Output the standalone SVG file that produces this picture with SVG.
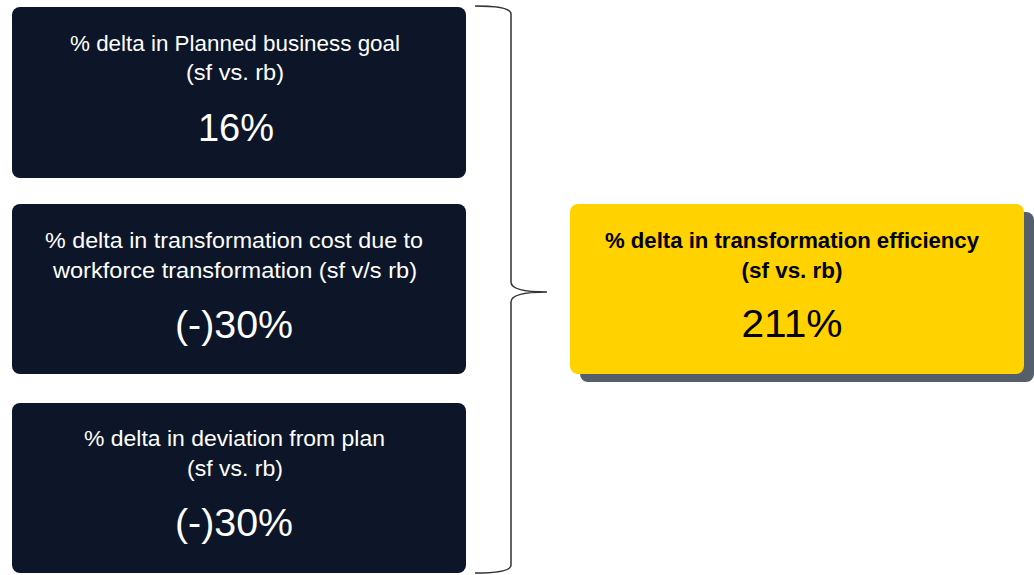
<svg xmlns="http://www.w3.org/2000/svg" width="1034" height="575" viewBox="0 0 1034 575">
<style>
.dark{fill:#0c1628}
.t{font-family:"Liberation Sans",Arial,sans-serif;text-anchor:middle}
.w{fill:#ffffff}
.lbl{font-size:22px}
.big{font-size:38px}
.k{fill:#000000}
</style>
<rect width="1034" height="575" fill="#ffffff"/>
<g id="node-planned-goal">
<rect class="dark" x="12" y="7" width="454" height="171" rx="8"/>
<text class="t w lbl" x="235" y="51" textLength="330" lengthAdjust="spacingAndGlyphs">% delta in Planned business goal</text>
<text class="t w lbl" x="235" y="80" textLength="98" lengthAdjust="spacingAndGlyphs">(sf vs. rb)</text>
<text class="t w big" x="236" y="141">16%</text>
</g>
<g id="node-transformation-cost">
<rect class="dark" x="12" y="204" width="454" height="170" rx="8"/>
<text class="t w lbl" x="234" y="248" textLength="378" lengthAdjust="spacingAndGlyphs">% delta in transformation cost due to</text>
<text class="t w lbl" x="235" y="278" textLength="364" lengthAdjust="spacingAndGlyphs">workforce transformation (sf v/s rb)</text>
<text class="t w big" x="234" y="338" textLength="118" lengthAdjust="spacingAndGlyphs">(-)30%</text>
</g>
<g id="node-deviation">
<rect class="dark" x="12" y="403" width="454" height="170" rx="8"/>
<text class="t w lbl" x="234.5" y="446" textLength="301" lengthAdjust="spacingAndGlyphs">% delta in deviation from plan</text>
<text class="t w lbl" x="235" y="476" textLength="96" lengthAdjust="spacingAndGlyphs">(sf vs. rb)</text>
<text class="t w big" x="234" y="536" textLength="118" lengthAdjust="spacingAndGlyphs">(-)30%</text>
</g>
<g id="node-efficiency">
<rect x="580" y="212" width="454" height="170" rx="8" fill="#555f6b"/>
<rect x="570" y="204" width="454" height="170" rx="8" fill="#ffd200"/>
<text class="t k lbl" x="792" y="248" font-weight="bold" textLength="374" lengthAdjust="spacingAndGlyphs">% delta in transformation efficiency</text>
<text class="t k lbl" x="792" y="278" font-weight="bold" textLength="101" lengthAdjust="spacingAndGlyphs">(sf vs. rb)</text>
<text class="t k big" x="792" y="337" textLength="101" lengthAdjust="spacingAndGlyphs">211%</text>
</g>
<g id="connectors" fill="none" stroke="#333333" stroke-width="1.5">
<path d="M475 6 Q511 6 511 14 L511 282 Q511 292 547 292 Q511 292 511 302 L511 565 Q511 573 475 573"/>
</g>
</svg>
